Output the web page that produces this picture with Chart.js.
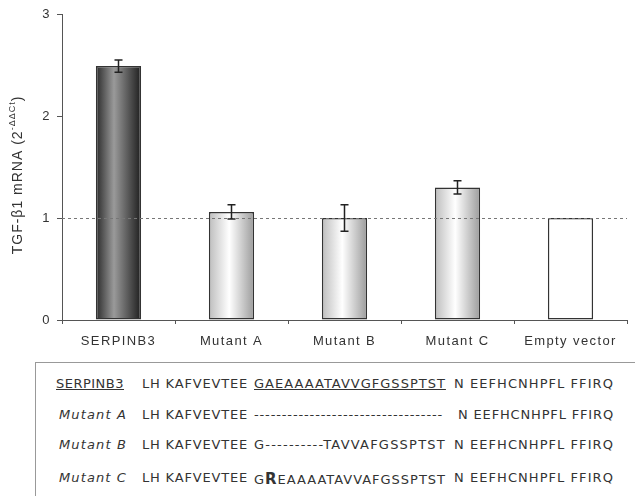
<!DOCTYPE html>
<html>
<head>
<meta charset="utf-8">
<script src="https://cdn.jsdelivr.net/npm/chart.js@4"></script>
<style>
  body { margin: 0; background: #fff; width: 635px; height: 496px; position: relative; overflow: hidden; }
  #wrap { position: absolute; left: 0; top: 0; width: 635px; height: 352px; }
  #seqbox { position: absolute; left: 35px; top: 362px; width: 620px; height: 150px; border: 1px solid #999; }
  .row { position: absolute; left: 0; width: 600px; height: 16px; font: 13px "DejaVu Sans", sans-serif; color: #333; white-space: nowrap; }
  .row span { position: absolute; top: 0; }
  .u { text-decoration: underline; }
</style>
</head>
<body>
<div id="wrap"><canvas id="chart"></canvas></div>
<div id="seqbox"></div>
<script>
// TGF-b1 expression chart + sequence alignment

const categories = ['SERPINB3', 'Mutant A', 'Mutant B', 'Mutant C', 'Empty vector'];
const values = [2.49, 1.06, 1.00, 1.30, 1.00];
const errors = [0.06, 0.07, 0.13, 0.065, 0];
const yTicks = [0, 1, 2, 3];

const seqNames = ['SERPINB3', 'Mutant A', 'Mutant B', 'Mutant C'];
const seqHead = ['LH KAFVEVTEE', 'LH KAFVEVTEE', 'LH KAFVEVTEE', 'LH KAFVEVTEE'];
const seqMid = ['GAEAAAATAVVGFGSSPTST', '----------------------------------', 'G----------TAVVAFGSSPTST', 'GREAAAATAVVAFGSSPTST'];
const seqTail = 'N EEFHCNHPFL FFIRQ';

Chart.defaults.font.family = '"Liberation Sans", Arial, sans-serif';
Chart.defaults.font.size = 13;
Chart.defaults.color = '#333';

function barFill(ctx) {
  const chart = ctx.chart;
  const xs = chart.scales.x;
  if (!xs || !chart.chartArea) return '#ccc';
  const cx = xs.getPixelForValue(ctx.dataIndex);
  const w = xs.width / categories.length * 0.4;
  const g = chart.ctx.createLinearGradient(cx - w / 2, 0, cx + w / 2, 0);
  if (ctx.dataIndex === 0) {
    g.addColorStop(0, '#2a2a2a');
    g.addColorStop(0.4, '#9a9a9a');
    g.addColorStop(1, '#1e1e1e');
  } else if (ctx.dataIndex === categories.length - 1) {
    return '#fff';
  } else {
    g.addColorStop(0, '#bdbdbd');
    g.addColorStop(0.45, '#ffffff');
    g.addColorStop(1, '#9c9c9c');
  }
  return g;
}

function dashedOne(chart) {
  const { ctx, chartArea: a, scales: { y } } = chart;
  const py = Math.round(y.getPixelForValue(1)) + 0.5;
  ctx.save();
  ctx.letterSpacing = '0px';
  ctx.strokeStyle = '#777';
  ctx.lineWidth = 1;
  ctx.setLineDash([3, 3]);
  ctx.beginPath();
  ctx.moveTo(a.left, py);
  ctx.lineTo(a.right, py);
  ctx.stroke();
  ctx.restore();
}

const extras = {
  id: 'extras',
  beforeLayout(chart) { chart.ctx.letterSpacing = '1.4px'; },
  beforeDraw(chart) { chart.ctx.letterSpacing = '1.4px'; },
  beforeDatasetsDraw(chart) { dashedOne(chart); },
  afterDatasetsDraw(chart) {
    const { ctx, scales: { x, y } } = chart;
    dashedOne(chart);
    ctx.save();
    ctx.strokeStyle = '#222';
    ctx.lineWidth = 1.5;
    values.forEach((v, i) => {
      if (!errors[i]) return;
      const cx = x.getPixelForValue(i);
      const t = y.getPixelForValue(v + errors[i]);
      const b = y.getPixelForValue(v - errors[i]);
      ctx.beginPath();
      ctx.moveTo(cx, t); ctx.lineTo(cx, b);
      ctx.moveTo(cx - 4, t); ctx.lineTo(cx + 4, t);
      ctx.moveTo(cx - 4, b); ctx.lineTo(cx + 4, b);
      ctx.stroke();
    });
    ctx.restore();
  },
  afterDraw(chart) {
    const { ctx, chartArea: a } = chart;
    ctx.save();
    ctx.translate(18, (a.top + a.bottom) / 2 + 8);
    ctx.rotate(-Math.PI / 2);
    ctx.letterSpacing = '1px';
    ctx.fillStyle = '#333';
    ctx.textBaseline = 'middle';
    const main = 'TGF-\u03b21 mRNA (2';
    const sup = '-\u0394\u0394Ct';
    const big = '14px "Liberation Sans", Arial, sans-serif';
    const small = '9px "Liberation Sans", Arial, sans-serif';
    ctx.font = big;
    const w1 = ctx.measureText(main).width;
    const w3 = ctx.measureText(')').width;
    ctx.font = small;
    const w2 = ctx.measureText(sup).width;
    let sx = -(w1 + w2 + w3) / 2;
    ctx.font = big;
    ctx.fillText(main, sx, 0);
    sx += w1;
    ctx.font = small;
    ctx.fillText(sup, sx, -5);
    sx += w2;
    ctx.font = big;
    ctx.fillText(')', sx, 0);
    ctx.restore();
  }
};

new Chart(document.getElementById('chart'), {
  type: 'bar',
  data: {
    labels: categories,
    datasets: [{
      data: values,
      backgroundColor: barFill,
      borderColor: '#333',
      borderWidth: 1.5,
      borderSkipped: false,
      categoryPercentage: 0.8,
      barPercentage: 0.5
    }]
  },
  plugins: [extras],
  options: {
    responsive: true,
    maintainAspectRatio: false,
    animation: false,
    events: [],
    layout: { padding: { left: 22, right: 8, top: 14, bottom: 2 } },
    plugins: { legend: { display: false }, tooltip: { enabled: false } },
    scales: {
      x: {
        afterFit: s => { s.height = 30; },
        grid: { offset: true, drawOnChartArea: false, drawTicks: true, tickLength: 4, color: '#555' },
        border: { color: '#555', width: 1 },
        ticks: { padding: 10, maxRotation: 0, autoSkip: false, color: '#333' }
      },
      y: {
        min: 0, max: 3,
        afterFit: s => { s.width = 40; },
        afterBuildTicks: s => { s.ticks = yTicks.map(v => ({ value: v })); },
        grid: { drawOnChartArea: false, drawTicks: true, tickLength: 5, color: '#555' },
        border: { color: '#555', width: 1 },
        ticks: { padding: 6, color: '#333' }
      }
    }
  }
});

// sequence alignment box; positions relative to box left edge (page x 35)
const box = document.getElementById('seqbox');
const rowTops = [13, 44, 74, 107];
const midEnds = [410, 407, 410, 410];
const tailStarts = [418, 422, 418, 418];

function place(span, left, width) {
  span.style.letterSpacing = '0px';
  const w = span.getBoundingClientRect().width;
  const n = span.textContent.length;
  span.style.letterSpacing = ((width - w) / n).toFixed(2) + 'px';
  span.style.left = left + 'px';
}

seqNames.forEach((name, i) => {
  const row = document.createElement('div');
  row.className = 'row';
  row.style.top = rowTops[i] + 'px';
  box.appendChild(row);

  const lab = document.createElement('span');
  lab.textContent = name;
  if (i === 0) lab.className = 'u';
  else lab.style.fontStyle = 'italic';
  row.appendChild(lab);
  place(lab, i === 0 ? 20 : 23, 68);

  const h = document.createElement('span');
  h.textContent = seqHead[i];
  row.appendChild(h);
  place(h, 106, 106);

  const m = document.createElement('span');
  if (i === 0) m.className = 'u';
  if (i === 3) {
    m.innerHTML = 'G<b style="font-size:15px;font-weight:600">R</b>' + seqMid[i].slice(2);
  } else {
    m.textContent = seqMid[i];
  }
  row.appendChild(m);
  place(m, 218, midEnds[i] - 218);

  const t = document.createElement('span');
  t.textContent = seqTail;
  row.appendChild(t);
  place(t, tailStarts[i], 578 - tailStarts[i]);
});
</script>
</body>
</html>
